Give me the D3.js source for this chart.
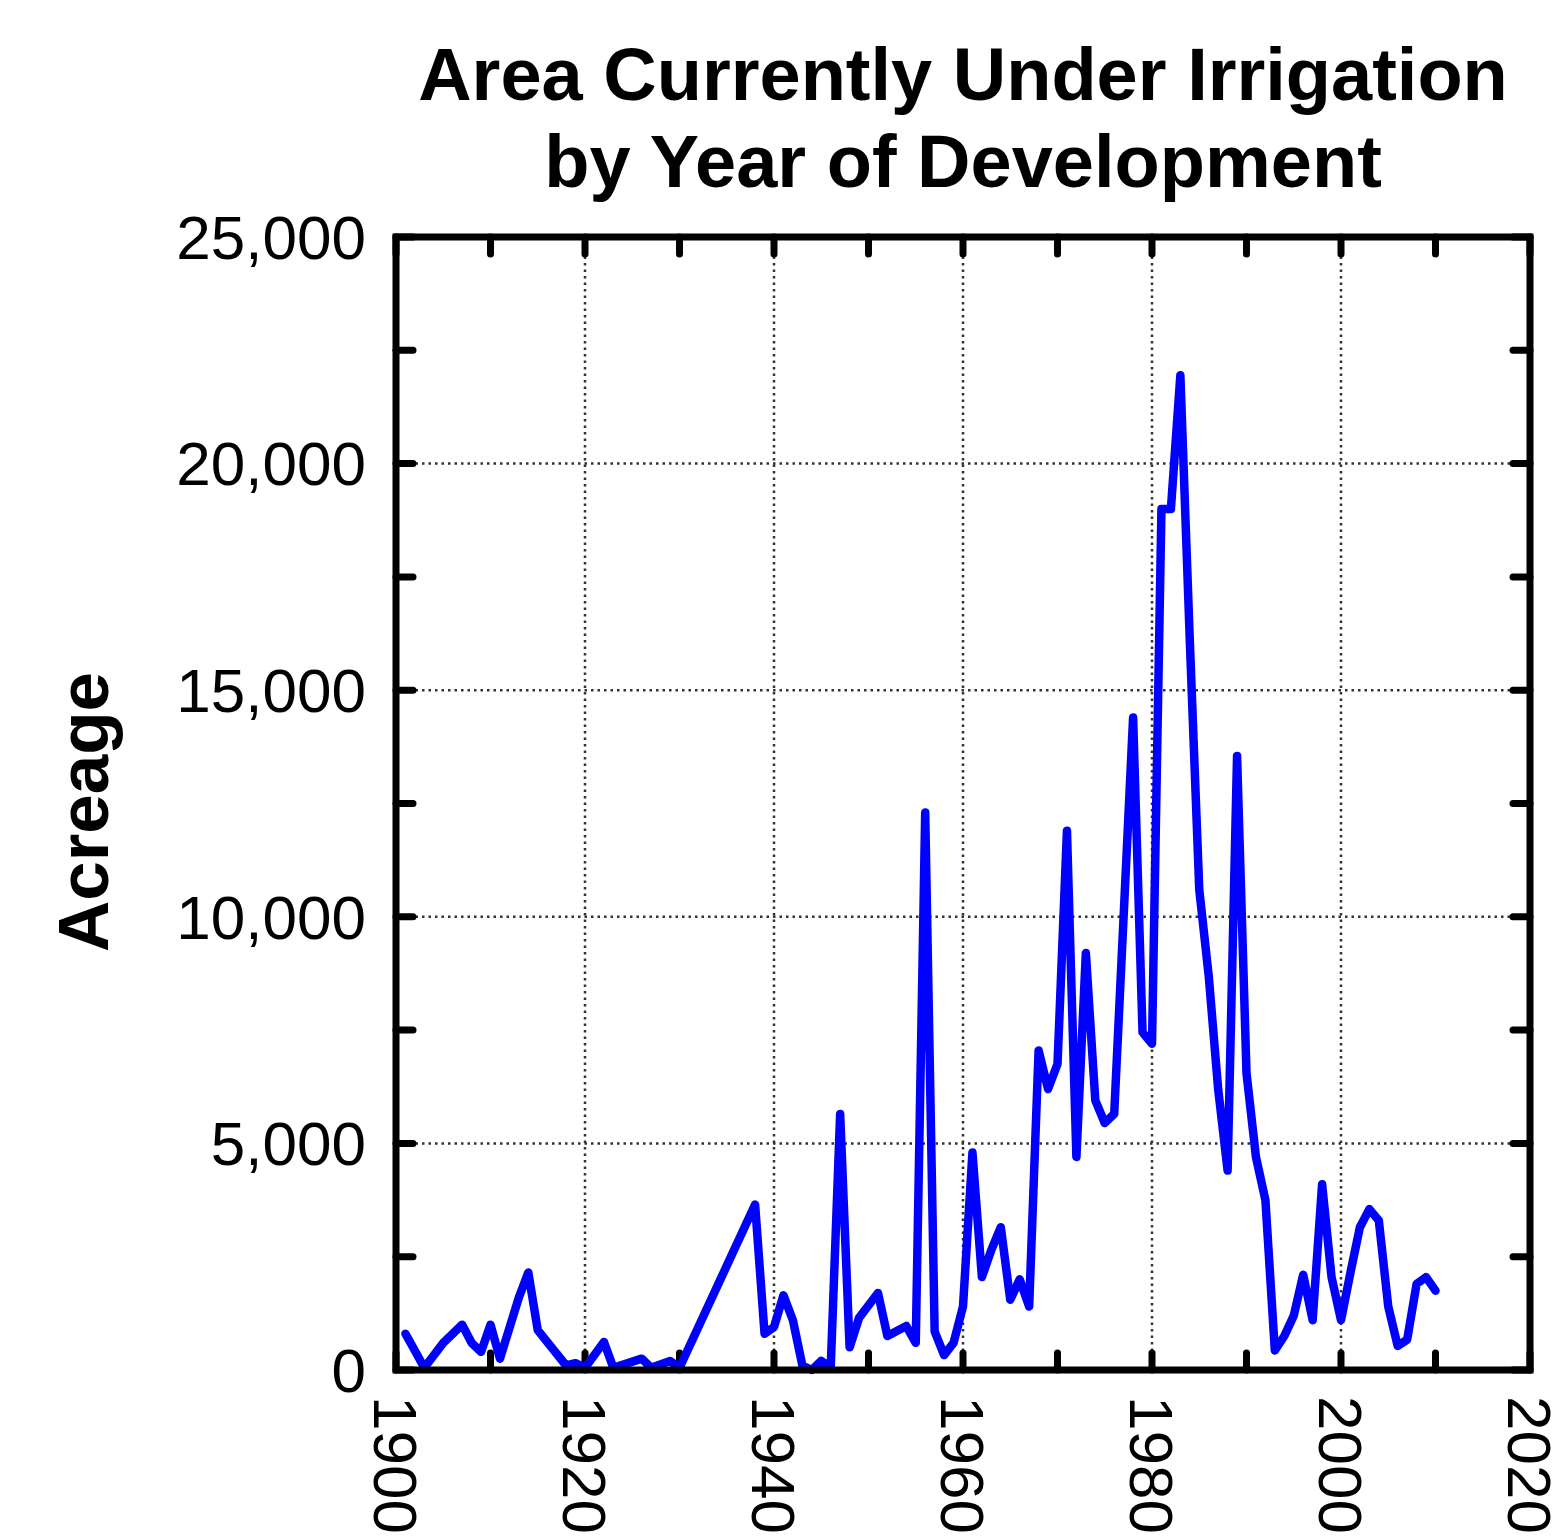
<!DOCTYPE html>
<html>
<head>
<meta charset="utf-8">
<script src="https://cdn.jsdelivr.net/npm/d3@7"></script>
<style>
    body { margin: 0; background: white; }
    svg { display: block; }
</style>
</head>
<body>
<div id="chart"></div>
<script>
// data
let years = [1901, 1903, 1905, 1907, 1908, 1909, 1910, 1911, 1913, 1914, 1915,
    1918, 1919, 1920, 1922, 1923, 1926, 1927, 1929, 1930, 1938, 1939, 1940,
    1941, 1942, 1943, 1944, 1945, 1946, 1947, 1948, 1949, 1951, 1952, 1954,
    1955, 1956, 1957, 1958, 1959, 1960, 1961, 1962, 1963, 1964, 1965, 1966,
    1967, 1968, 1969, 1970, 1971, 1972, 1973, 1974, 1975, 1976, 1978, 1979,
    1980, 1981, 1982, 1983, 1984, 1985, 1986, 1987, 1988, 1989, 1990, 1991,
    1992, 1993, 1994, 1995, 1996, 1997, 1998, 1999, 2000, 2001, 2002, 2003,
    2004, 2005, 2006, 2007, 2008, 2009, 2010];
let acreage = [800, 50, 600, 1000, 600, 400, 1000, 250, 1600, 2150, 880,
    100, 150, 50, 620, 50, 250, 50, 200, 50, 3650, 800, 950,
    1650, 1100, 100, 0, 200, 50, 5650, 500, 1150, 1700, 750, 970,
    600, 12300, 850, 330, 600, 1400, 4800, 2050, 2650, 3150, 1550, 2000,
    1400, 7050, 6200, 6750, 11900, 4700, 9200, 5950, 5450, 5650, 14400, 7450,
    7200, 19000, 19000, 21950, 16100, 10600, 8700, 6200, 4400, 13550, 6550, 4700,
    3750, 430, 750, 1200, 2100, 1100, 4100, 2050, 1100, 2150, 3150, 3550,
    3300, 1400, 530, 670, 1900, 2050, 1750];

let xTicks = [1900, 1920, 1940, 1960, 1980, 2000, 2020];
let xMinorTicks = [1910, 1930, 1950, 1970, 1990, 2010];
let yTicks = [0, 5000, 10000, 15000, 20000, 25000];
let yMinorTicks = [2500, 7500, 12500, 17500, 22500];

let titleLines = ["Area Currently Under Irrigation", "by Year of Development"];

// plot frame
let plotLeft = 396, plotRight = 1530, plotTop = 237, plotBottom = 1370;

let svg = d3.select("#chart")
    .append("svg")
    .attr("width", 1566)
    .attr("height", 1537)
    .style("font-family", "'Liberation Sans', Arial, Helvetica, sans-serif");

let x = d3.scaleLinear().domain([1900, 2020]).range([plotLeft, plotRight]);
let y = d3.scaleLinear().domain([0, 25000]).range([plotBottom, plotTop]);

// grid lines (dotted)
svg.append("g")
    .selectAll("line")
    .data(xTicks.slice(1, -1))
    .enter()
    .append("line")
    .attr("x1", d => x(d)).attr("x2", d => x(d))
    .attr("y1", plotTop).attr("y2", plotBottom)
    .attr("stroke", "#333")
    .attr("stroke-width", 2.5)
    .attr("stroke-dasharray", "2.5,4");

svg.append("g")
    .selectAll("line")
    .data(yTicks.slice(1, -1))
    .enter()
    .append("line")
    .attr("x1", plotLeft).attr("x2", plotRight)
    .attr("y1", d => y(d)).attr("y2", d => y(d))
    .attr("stroke", "#333")
    .attr("stroke-width", 2.5)
    .attr("stroke-dasharray", "2.5,4");

// inward ticks on all four sides
let tickLen = 17;
let allX = xTicks.concat(xMinorTicks);
let allY = yTicks.concat(yMinorTicks);
let ticks = svg.append("g")
    .attr("stroke", "black")
    .attr("stroke-width", 7)
    .attr("stroke-linecap", "round");

ticks.selectAll(".tb").data(allX).enter().append("line")
    .attr("x1", d => x(d)).attr("x2", d => x(d))
    .attr("y1", plotBottom).attr("y2", plotBottom - tickLen);
ticks.selectAll(".tt").data(allX).enter().append("line")
    .attr("x1", d => x(d)).attr("x2", d => x(d))
    .attr("y1", plotTop).attr("y2", plotTop + tickLen);
ticks.selectAll(".tl").data(allY).enter().append("line")
    .attr("x1", plotLeft).attr("x2", plotLeft + tickLen)
    .attr("y1", d => y(d)).attr("y2", d => y(d));
ticks.selectAll(".tr").data(allY).enter().append("line")
    .attr("x1", plotRight).attr("x2", plotRight - tickLen)
    .attr("y1", d => y(d)).attr("y2", d => y(d));

// the series
let line = d3.line()
    .x(d => x(d[0]))
    .y(d => y(d[1]));

svg.append("path")
    .datum(d3.zip(years, acreage))
    .attr("d", line)
    .attr("fill", "none")
    .attr("stroke", "#0000ff")
    .attr("stroke-width", 8.5)
    .attr("stroke-linejoin", "round")
    .attr("stroke-linecap", "round");

// frame
svg.append("rect")
    .attr("x", plotLeft).attr("y", plotTop)
    .attr("width", plotRight - plotLeft).attr("height", plotBottom - plotTop)
    .attr("fill", "none")
    .attr("stroke", "black")
    .attr("stroke-width", 7);

// y tick labels
svg.append("g")
    .selectAll("text")
    .data(yTicks)
    .enter()
    .append("text")
    .attr("x", 366)
    .attr("y", d => y(d))
    .attr("dy", "0.35em")
    .attr("text-anchor", "end")
    .style("font-size", "62px")
    .text(d3.format(","));

// x tick labels, rotated
svg.append("g")
    .selectAll("text")
    .data(xTicks)
    .enter()
    .append("text")
    .attr("transform", d => "translate(" + x(d) + ",1396) rotate(90)")
    .attr("dy", "0.35em")
    .attr("text-anchor", "start")
    .style("font-size", "62px")
    .text(d => d);

// y axis label
svg.append("text")
    .attr("transform", "translate(108,812) rotate(-90)")
    .attr("text-anchor", "middle")
    .style("font-size", "71px")
    .style("font-weight", "bold")
    .text("Acreage");

// title
svg.append("g")
    .selectAll("text")
    .data(titleLines)
    .enter()
    .append("text")
    .attr("x", (plotLeft + plotRight) / 2)
    .attr("y", (d, i) => 100 + i * 87)
    .attr("text-anchor", "middle")
    .style("font-size", "74px")
    .style("font-weight", "bold")
    .text(d => d);
</script>
</body>
</html>
